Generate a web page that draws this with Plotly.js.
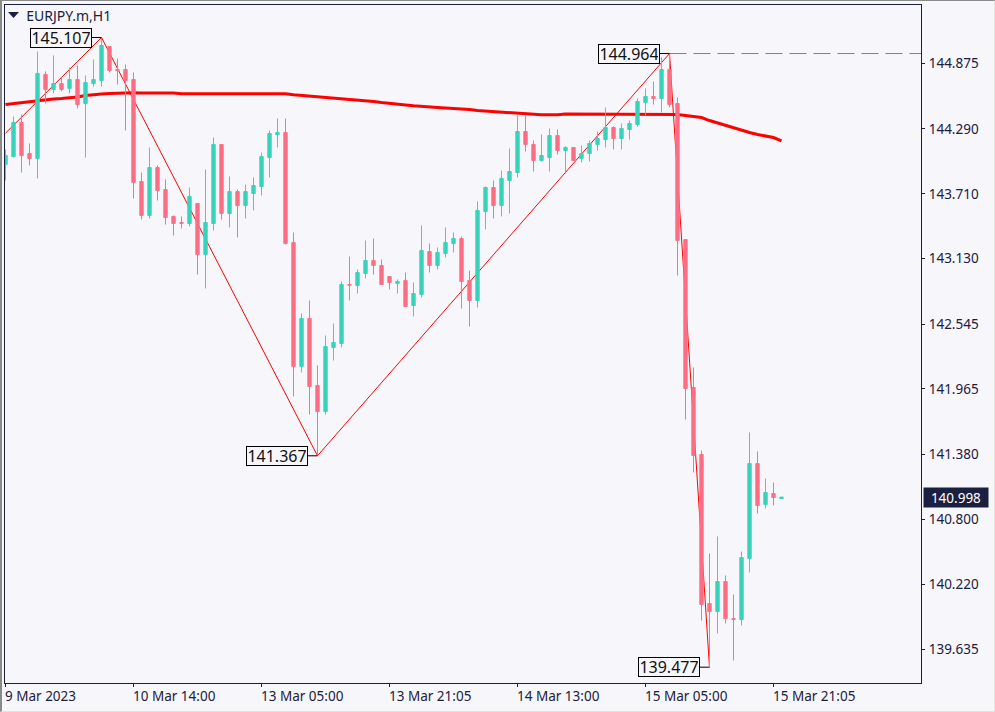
<!DOCTYPE html>
<html>
<head>
<meta charset="utf-8">
<title>EURJPY.m,H1</title>
<script src="https://cdn.plot.ly/plotly-3.0.1.min.js"></script>
<style>
  html, body { margin: 0; padding: 0; background: #f6f6fb; }
  #chart { position: absolute; left: 0; top: 0; width: 995px; height: 712px; }
  #edge { position: absolute; left: 0; top: 0; width: 992px; height: 710px; pointer-events: none;
    border-left: 2px solid #8a8a8a; border-top: 1px solid #8a8a8a;
    border-right: 1px solid #e2e2e2; border-bottom: 1px solid #e2e2e2; }
</style>
</head>
<body>
<div id="chart"></div>
<div id="edge"></div>
<script>
// hourly bars
const open = [143.972,144.043,144.347,144.070,144.026,144.777,144.643,144.696,144.652,144.732,
  144.517,144.696,144.723,145.027,144.821,144.821,144.732,143.820,143.516,143.945,
  143.748,143.507,143.453,143.444,143.623,143.167,143.444,144.151,143.534,143.730,
  143.605,143.713,143.775,144.034,144.240,144.258,143.274,142.166,142.595,141.996,
  141.763,142.336,142.371,142.899,142.890,142.997,143.113,143.069,142.970,142.908,
  142.935,142.711,142.810,143.194,143.069,143.176,143.265,143.310,142.935,142.756,
  143.552,143.766,143.605,143.829,143.900,144.267,144.151,144.008,144.034,144.231,
  144.097,144.124,144.026,144.070,144.151,144.195,144.303,144.204,144.285,144.330,
  144.526,144.580,144.562,144.821,144.517,143.301,141.978,141.379,140.046,139.975,
  140.243,139.912,139.903,140.449,141.298,140.932,141.030,140.985];
const high = [144.106,144.401,144.419,144.160,144.982,144.804,144.947,144.750,144.839,144.857,
  144.768,144.911,145.107,145.027,144.920,144.866,144.795,143.900,144.124,143.963,
  143.838,143.516,143.507,143.766,143.623,143.927,144.213,144.151,143.865,143.748,
  143.793,143.856,144.079,144.276,144.383,144.383,143.364,142.640,142.756,142.175,
  142.443,142.550,142.926,143.149,143.033,143.292,143.310,143.122,142.970,142.944,
  143.006,142.917,143.426,143.265,143.230,143.409,143.364,143.328,143.024,143.641,
  143.775,143.829,143.918,144.115,144.410,144.410,144.187,144.240,144.294,144.285,
  144.133,144.124,144.142,144.187,144.267,144.482,144.312,144.339,144.365,144.562,
  144.652,144.714,144.929,144.964,144.571,143.301,142.157,141.415,140.494,140.646,
  140.297,140.127,140.511,141.576,141.406,141.164,141.128,140.998];
const low = [143.829,144.034,143.900,143.963,143.847,144.517,144.607,144.625,144.607,144.473,
  144.034,144.669,144.669,144.795,144.687,144.276,143.668,143.480,143.489,143.650,
  143.435,143.337,143.400,143.418,142.988,142.863,143.382,143.480,143.409,143.319,
  143.489,143.561,143.695,143.856,144.124,143.257,141.897,142.112,141.736,141.367,
  141.736,142.219,142.336,142.756,142.818,142.953,142.988,142.899,142.854,142.818,
  142.702,142.613,142.783,143.006,143.033,143.140,143.185,142.684,142.523,142.693,
  143.391,143.489,143.507,143.534,143.856,144.088,143.909,143.999,143.909,144.061,
  143.891,144.008,143.990,143.999,144.097,144.124,144.106,144.106,144.195,144.312,
  144.410,144.508,144.437,144.482,142.979,141.692,141.218,139.894,139.477,139.778,
  139.868,139.537,139.850,140.324,140.851,140.896,140.923,140.985];
const close = [144.052,144.347,144.052,144.026,144.786,144.643,144.696,144.643,144.732,144.508,
  144.705,144.732,145.036,144.812,144.812,144.723,143.811,143.516,143.945,143.739,
  143.498,143.444,143.446,143.686,143.167,143.453,144.151,143.534,143.730,143.605,
  143.730,143.784,144.043,144.249,144.258,143.265,142.166,142.595,141.987,141.763,
  142.344,142.380,142.899,142.893,143.006,143.113,143.069,142.899,142.917,142.926,
  142.702,142.818,143.203,143.069,143.185,143.274,143.310,142.926,142.756,143.561,
  143.766,143.605,143.847,143.909,144.267,144.151,144.008,144.052,144.231,144.097,
  144.124,144.008,144.070,144.160,144.204,144.303,144.204,144.294,144.339,144.535,
  144.580,144.562,144.821,144.508,143.292,141.969,141.370,140.037,139.975,140.243,
  139.912,139.905,140.458,141.298,140.923,141.039,140.994,140.998];

// moving average, same bars
const maValues = [144.508,144.517,144.522,144.531,144.540,144.549,144.558,144.562,144.567,144.575,
  144.589,144.598,144.602,144.607,144.611,144.613,144.613,144.611,144.611,144.611,
  144.611,144.611,144.604,144.604,144.604,144.604,144.604,144.604,144.604,144.604,
  144.604,144.604,144.604,144.604,144.604,144.604,144.595,144.589,144.586,144.580,
  144.575,144.568,144.562,144.553,144.549,144.544,144.535,144.526,144.517,144.508,
  144.504,144.497,144.490,144.486,144.482,144.477,144.473,144.470,144.464,144.455,
  144.450,144.446,144.440,144.432,144.428,144.422,144.416,144.416,144.416,144.416,
  144.423,144.423,144.423,144.423,144.423,144.423,144.423,144.423,144.423,144.423,
  144.423,144.423,144.423,144.423,144.419,144.410,144.401,144.392,144.365,144.343,
  144.321,144.298,144.276,144.258,144.240,144.227,144.213,144.182];

const zigzagBars = [0, 12, 39, 83, 88];
const zigzagPrices = [144.252, 145.107, 141.367, 144.964, 139.477];
const pivotText = ['145.107', '141.367', '144.964', '139.477'];

const priceTicks = [144.875, 144.290, 143.710, 143.130, 142.545, 141.965, 141.380, 140.800, 140.220, 139.635];
const priceTickText = ['144.875', '144.290', '143.710', '143.130', '142.545', '141.965', '141.380', '140.800', '140.220', '139.635'];
const timeTicks = [0, 16, 32, 48, 64, 80, 96];
const timeTickText = ['9 Mar 2023', '10 Mar 14:00', '13 Mar 05:00', '13 Mar 21:05', '14 Mar 13:00', '15 Mar 05:00', '15 Mar 21:05'];
const lastPrice = 140.998;

const bars = open.map((_, i) => i);
const xRange = [-0.0625, 114.4375];
const yRange = [139.3355, 145.398];

const INK = '#1b2040';
const BG = '#f6f6fb';
const UI_FONT = '"Noto Sans", sans-serif';

const traces = [
  // lines sit on the lower axes so the candles cover them
  { type: 'scatter', mode: 'lines', x: bars, y: maValues, xaxis: 'x', yaxis: 'y',
    line: { color: '#ff0000', width: 3 }, hoverinfo: 'skip' },
  { type: 'scatter', mode: 'lines', x: zigzagBars, y: zigzagPrices, xaxis: 'x', yaxis: 'y',
    line: { color: '#ff0000', width: 1 }, hoverinfo: 'skip' },
  { type: 'scatter', mode: 'lines', x: [zigzagBars[3], xRange[1]], y: [zigzagPrices[3], zigzagPrices[3]], xaxis: 'x', yaxis: 'y',
    line: { color: '#808080', width: 1, dash: '17px,7px' }, hoverinfo: 'skip' },
  { type: 'candlestick', x: bars, open, high, low, close, xaxis: 'x2', yaxis: 'y2',
    increasing: { line: { color: '#3fd1ba', width: 1 }, fillcolor: '#36d3bb' },
    decreasing: { line: { color: '#f8738a', width: 1 }, fillcolor: '#ff6b81' } }
];

const pivotAnnotations = pivotText.map((text, k) => ({
  x: zigzagBars[k + 1], y: zigzagPrices[k + 1], xref: 'x', yref: 'y',
  text, showarrow: true, arrowhead: 0, arrowwidth: 1, arrowcolor: '#000000',
  ax: -9.5, ay: 0, xanchor: 'right', yanchor: 'middle',
  bgcolor: BG, bordercolor: '#000000', borderwidth: 1, borderpad: 1,
  width: 58, height: 16, align: 'center',
  font: { family: UI_FONT, size: 16, color: '#111111' }
}));

const timeAnnotations = timeTicks.map((bar, k) => ({
  x: bar, xref: 'x', y: 0, yref: 'paper', yanchor: 'top', xanchor: 'left', yshift: -2, xshift: -2.5,
  text: timeTickText[k], showarrow: false,
  font: { family: UI_FONT, size: 13.5, color: INK }
}));

const layout = {
  width: 995, height: 712,
  margin: { l: 5, r: 74, t: 5, b: 29, pad: 0 },
  paper_bgcolor: BG, plot_bgcolor: BG,
  showlegend: false, hovermode: false, dragmode: false,
  title: { text: 'EURJPY.m,H1', x: 23 / 995, xanchor: 'left', xref: 'paper', y: 1 - 16 / 712, yanchor: 'middle', yref: 'container',
    font: { family: UI_FONT, size: 14, color: INK } },
  xaxis: { range: xRange, tickvals: timeTicks, ticktext: timeTickText, showticklabels: false, ticks: 'outside', ticklen: 3, tickcolor: INK,
    showgrid: false, zeroline: false, showline: true, linecolor: INK, linewidth: 1, mirror: true, rangeslider: { visible: false } },
  yaxis: { side: 'right', range: yRange, tickvals: priceTicks, ticktext: priceTickText, ticks: 'outside', ticklen: 3, tickcolor: INK,
    ticklabelstandoff: 1, tickfont: { family: UI_FONT, size: 13.5, color: INK },
    showgrid: false, zeroline: false, showline: true, linecolor: INK, linewidth: 1, mirror: true },
  xaxis2: { overlaying: 'x', range: xRange, visible: false, rangeslider: { visible: false } },
  yaxis2: { overlaying: 'y', side: 'right', range: yRange, visible: false },
  boxgap: 0.4,
  // chart menu marker next to the symbol name
  shapes: [{ type: 'path', xref: 'paper', yref: 'paper', layer: 'above', line: { width: 0 }, fillcolor: INK,
    path: 'M 0.0033 0.9897 L 0.0153 0.9897 L 0.0093 0.9808 Z' }],
  annotations: [
    ...pivotAnnotations,
    ...timeAnnotations,
    { x: 1, xref: 'paper', y: lastPrice, yref: 'y', xanchor: 'left', yanchor: 'middle', xshift: 1.5, showarrow: false,
      text: String(lastPrice), width: 62, height: 17, bgcolor: INK, align: 'center',
      font: { family: UI_FONT, size: 13.5, color: '#ffffff' } }
  ]
};

Plotly.newPlot('chart', traces, layout, { displayModeBar: false, staticPlot: true });
</script>
</body>
</html>
